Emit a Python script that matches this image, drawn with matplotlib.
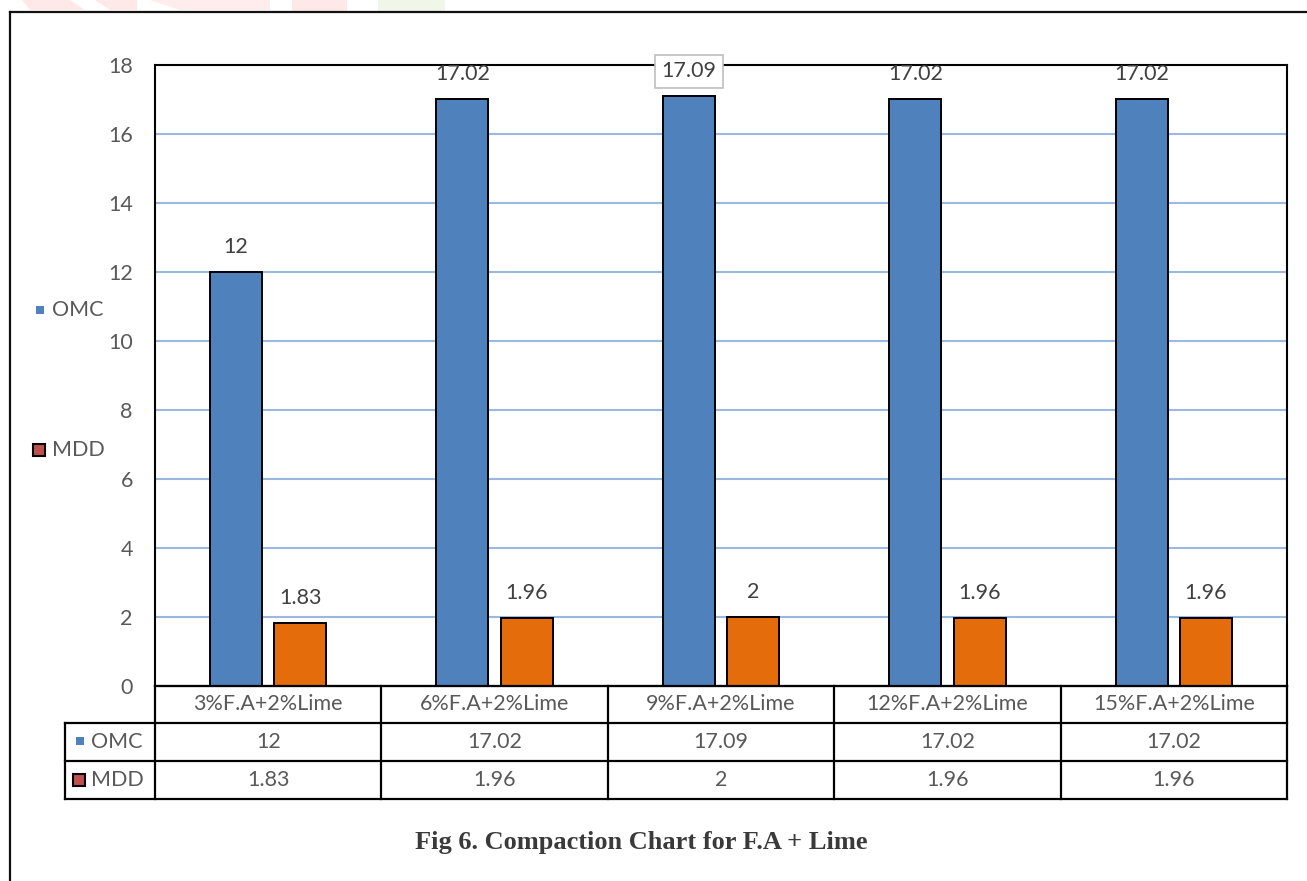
import numpy as np
import matplotlib
matplotlib.use("Agg")
import matplotlib.pyplot as plt
from matplotlib.patches import Rectangle, Polygon

# Data
categories = ["3%F.A+2%Lime", "6%F.A+2%Lime", "9%F.A+2%Lime", "12%F.A+2%Lime", "15%F.A+2%Lime"]
omc = [12, 17.02, 17.09, 17.02, 17.02]
mdd = [1.83, 1.96, 2, 1.96, 1.96]
series_names = ["OMC", "MDD"]
y_ticks = [0, 2, 4, 6, 8, 10, 12, 14, 16, 18]
caption = "Fig 6. Compaction Chart for F.A + Lime"

BLUE = "#4F81BD"
ORANGE = "#E46C0A"
RED = "#C0504D"
GRID = "#9BB9E0"
TXT = "#404040"
LBL = "#595959"
FONT = "Lato"
FS = 15.5

W, H = 1307, 881
fig = plt.figure(figsize=(W / 100, H / 100), dpi=100)
fig.patch.set_facecolor("white")

# Plot area (pixel layout)
px_left, px_right, px_top, px_bottom = 155, 1287, 65, 686
ax = fig.add_axes([px_left / W, 1 - px_bottom / H,
                   (px_right - px_left) / W, (px_bottom - px_top) / H])

x = np.arange(len(categories))
bw = 0.23
off = 0.142
ax.bar(x - off, omc, bw, color=BLUE, edgecolor="black", linewidth=1.4, zorder=3)
ax.bar(x + off, mdd, bw, color=ORANGE, edgecolor="black", linewidth=1.4, zorder=3)

ax.set_xlim(-0.5, len(categories) - 0.5)
ax.set_ylim(0, 18)
ax.set_yticks(y_ticks)
ax.set_yticklabels([str(t) for t in y_ticks], fontsize=FS, color=LBL, family=FONT)
ax.tick_params(axis="y", length=0, pad=16)
ax.set_xticks([])
for t in y_ticks[1:-1]:
    ax.axhline(t, color=GRID, lw=1.5, zorder=1)
for s in ax.spines.values():
    s.set_color("black")
    s.set_linewidth(1.5)

# Value labels above bars
for i, v in enumerate(omc):
    kw = {}
    if v == max(omc):
        kw["bbox"] = dict(boxstyle="square,pad=0.3", fc="white", ec="#BFBFBF", lw=1.2)
    ax.annotate(f"{v:g}", (x[i] - off, v), xytext=(0, 11), textcoords="offset points",
                ha="center", va="bottom", fontsize=FS, color=TXT, family=FONT, zorder=5, **kw)
for i, v in enumerate(mdd):
    ax.annotate(f"{v:g}", (x[i] + off, v), xytext=(0, 11), textcoords="offset points",
                ha="center", va="bottom", fontsize=FS, color=TXT, family=FONT, zorder=5)

# Overlay in pixel coordinates for table, legend, frame and caption
ov = fig.add_axes([0, 0, 1, 1], zorder=10)
ov.set_xlim(0, W)
ov.set_ylim(H, 0)
ov.axis("off")
ov.patch.set_alpha(0)

# Faint header watermark
wm = [
    (Polygon([(22, 0), (70, 0), (85, 10), (30, 10)], closed=True), "#FFE8E8"),
    (Polygon([(95, 0), (137, 0), (137, 10), (110, 10)], closed=True), "#FFE8E8"),
    (Polygon([(150, 0), (270, 0), (270, 10), (180, 10)], closed=True), "#FFECEC"),
    (Polygon([(378, 0), (445, 0), (445, 12), (378, 12)], closed=True), "#F0F7E8"),
    (Polygon([(292, 0), (347, 0), (347, 12), (292, 12)], closed=True), "#FFE8E8"),
]
for p, c in wm:
    p.set_facecolor(c)
    p.set_edgecolor("none")
    ov.add_patch(p)

lw_tab = 1.6
ncol = len(categories)
colw = (px_right - px_left) / ncol
row_y = [686, 723, 761, 799]
tab_left = 65
# horizontal lines
ov.plot([px_left, px_right], [row_y[0], row_y[0]], color="black", lw=lw_tab)
for yy in row_y[1:]:
    ov.plot([tab_left, px_right], [yy, yy], color="black", lw=lw_tab)
# vertical lines
for j in range(ncol + 1):
    xx = px_left + j * colw
    ov.plot([xx, xx], [row_y[0], row_y[3]], color="black", lw=lw_tab)
ov.plot([tab_left, tab_left], [row_y[1], row_y[3]], color="black", lw=lw_tab)

for j, cat in enumerate(categories):
    cx = px_left + (j + 0.5) * colw
    ov.text(cx, (row_y[0] + row_y[1]) / 2, cat, ha="center", va="center",
            fontsize=FS, color=LBL, family=FONT)
    ov.text(cx, (row_y[1] + row_y[2]) / 2, f"{omc[j]:g}", ha="center", va="center",
            fontsize=FS, color=LBL, family=FONT)
    ov.text(cx, (row_y[2] + row_y[3]) / 2, f"{mdd[j]:g}", ha="center", va="center",
            fontsize=FS, color=LBL, family=FONT)

# Row headers in the table
ov.add_patch(Rectangle((76, 737), 8, 8, fc=BLUE, ec="none"))
ov.text(91, 742, series_names[0], ha="left", va="center", fontsize=FS, color=LBL, family=FONT)
ov.add_patch(Rectangle((73, 774), 12, 12, fc=RED, ec="black", lw=1.5))
ov.text(91, 780, series_names[1], ha="left", va="center", fontsize=FS, color=LBL, family=FONT)

# Legend on the left
ov.add_patch(Rectangle((36, 306), 8, 8, fc=BLUE, ec="none"))
ov.text(52, 310, series_names[0], ha="left", va="center", fontsize=FS, color=LBL, family=FONT)
ov.add_patch(Rectangle((33, 444), 12, 12, fc=RED, ec="black", lw=1.5))
ov.text(52, 450, series_names[1], ha="left", va="center", fontsize=FS, color=LBL, family=FONT)

# Outer frame (left and top edges)
ov.plot([10, 10], [12, H], color="#111111", lw=1.6)
ov.plot([10, W], [12, 12], color="#111111", lw=1.6)

# Caption
ov.text(641, 843, caption, ha="center", va="center", fontsize=19, fontweight="bold",
        color="#3A3A3A", family="Liberation Serif")

fig.savefig("out.png", dpi=100, facecolor="white")
